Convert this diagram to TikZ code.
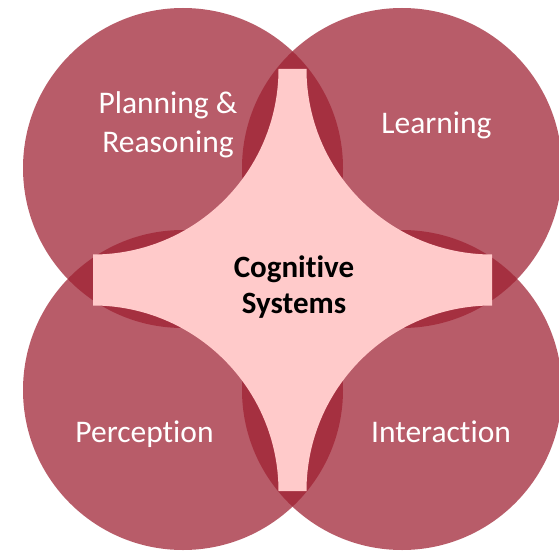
\documentclass[tikz,border=0pt]{standalone}
\usepackage{fontspec}
\setmainfont{Carlito}[Ligatures=NoCommon]
\definecolor{circbase}{RGB}{159,32,50}
\definecolor{pinkc}{RGB}{255,202,202}
\begin{document}
\begin{tikzpicture}[x=1pt,y=1pt,
  circ/.style={circle, fill=circbase, fill opacity=0.73, draw=none, minimum size=320pt, inner sep=0pt},
  lbl/.style={text=white, font=\fontsize{31.5}{39}\selectfont, align=center, anchor=base, inner sep=0pt},
  ctr/.style={text=black, font=\bfseries\fontsize{31}{36}\selectfont, align=center, anchor=base, inner sep=0pt}]
\useasboundingbox (0,0) rectangle (559,550);
\fill[white] (0,0) rectangle (559,550);
\node[circ] (tl) at (183,382) {};
\node[circ] (tr) at (402,382) {};
\node[circ] (bl) at (183,160) {};
\node[circ] (br) at (402,160) {};
\fill[pinkc] (278.5,481) -- (306.5,481)
  arc[start angle=180, end angle=270, radius=185.5pt] -- (492,244.5)
  arc[start angle=90, end angle=180, radius=185.5pt] -- (278.5,59)
  arc[start angle=0, end angle=90, radius=185.5pt] -- (93,295.5)
  arc[start angle=-90, end angle=0, radius=185.5pt] -- cycle;
\node[lbl] (plan) at (168,398) {Planning \&\\Reasoning};
\node[lbl] (learn) at (436.5,417) {Learning};
\node[lbl] (perc) at (144.5,108) {Perception};
\node[lbl] (inter) at (441,108) {Interaction};
\node[ctr] (cog) at (294,237) {Cognitive\\Systems};
\end{tikzpicture}
\end{document}
